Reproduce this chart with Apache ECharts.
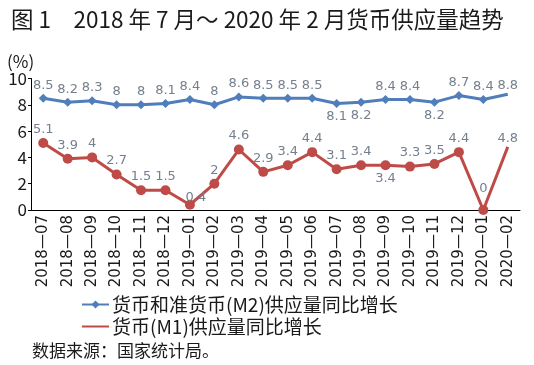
<!DOCTYPE html>
<html><head><meta charset="utf-8">
<script src="https://cdn.jsdelivr.net/npm/echarts@6/dist/echarts.min.js"></script>
<style>html,body{margin:0;padding:0;background:#fff}#c{width:534px;height:365px}</style>
</head><body><div id="c"></div>
<script>
const categories = ['2018—07','2018—08','2018—09','2018—10','2018—11','2018—12','2019—01','2019—02','2019—03','2019—04','2019—05','2019—06','2019—07','2019—08','2019—09','2019—10','2019—11','2019—12','2020—01','2020—02'];
const m2 = [8.5,8.2,8.3,8,8,8.1,8.4,8,8.6,8.5,8.5,8.5,8.1,8.2,8.4,8.4,8.2,8.7,8.4,8.8];
const m1 = [5.1,3.9,4,2.7,1.5,1.5,0.4,2,4.6,2.9,3.4,4.4,3.1,3.4,3.4,3.3,3.5,4.4,0,4.8];
const m2Name = '货币和准货币(M2)供应量同比增长';
const m1Name = '货币(M1)供应量同比增长';
const m2LabelBelow = [12,13,16];
const m1LabelBelow = [14];

const FONT = 'Noto Sans CJK SC';
const BLUE = '#4F7EBB', RED = '#BE4B48', LABEL = '#75808f';
const last = categories.length - 1;

function build(vals, below, extra) {
  return vals.map((v, i) => {
    const d = { value: v };
    if (i === last) d.symbolSize = 0;
    if (below.indexOf(i) >= 0) d.label = { position: 'bottom' };
    if (extra && extra[i]) Object.assign(d, extra[i]);
    return d;
  });
}

const chart = echarts.init(document.getElementById('c'));
chart.setOption({
  animation: false,
  textStyle: { fontFamily: FONT },
  title: {
    text: '图 1　2018 年 7 月～ 2020 年 2 月货币供应量趋势',
    left: 6, top: 3,
    textStyle: { fontFamily: FONT, fontSize: 22.5, fontWeight: 'normal', color: '#1a1a1a' }
  },
  legend: {
    orient: 'vertical', left: 76, top: 290, itemWidth: 27, itemHeight: 10, itemGap: 3,
    textStyle: { fontFamily: FONT, fontSize: 19, color: '#1a1a1a', padding: [0, 0, 0, -2] },
    data: [{ name: m2Name }, { name: m1Name, itemStyle: { opacity: 0 } }]
  },
  graphic: [{
    type: 'text', left: 32, top: 342,
    style: { text: '数据来源：国家统计局。', font: '17px "Noto Sans CJK SC"', fill: '#1a1a1a' }
  }],
  grid: { left: 31, right: 14, top: 78.5, bottom: 155, containLabel: false },
  xAxis: {
    type: 'category', data: categories, boundaryGap: true,
    axisLine: { lineStyle: { color: '#000', width: 1 } },
    axisTick: { show: false },
    axisLabel: { rotate: 90, fontSize: 15, color: '#1a1a1a', margin: 5, interval: 0, fontFamily: 'DejaVu Sans' }
  },
  yAxis: {
    type: 'value', min: 0, max: 10, interval: 2,
    name: '(%)', nameLocation: 'end', nameGap: 6,
    nameTextStyle: { fontSize: 17, color: '#1a1a1a', align: 'left', padding: [0, 0, 0, -24], fontFamily: FONT },
    axisLine: { show: true, lineStyle: { color: '#000', width: 1 } },
    axisTick: { show: true, length: 3, lineStyle: { color: '#000' } },
    splitLine: { show: false },
    axisLabel: { fontSize: 17, color: '#1a1a1a', margin: 4, fontFamily: FONT }
  },
  series: [{
    name: m2Name, type: 'line', data: build(m2, m2LabelBelow),
    symbol: 'diamond', symbolSize: 9,
    lineStyle: { color: BLUE, width: 3 }, itemStyle: { color: BLUE },
    label: { show: true, position: 'top', distance: 2, fontSize: 13, color: LABEL, fontFamily: 'DejaVu Sans' }
  }, {
    name: m1Name, type: 'line', data: build(m1, m1LabelBelow, { 6: { label: { position: 'top', offset: [6, 6] } }, 18: { label: { position: 'top', distance: 10 } } }),
    symbol: 'circle', symbolSize: 10,
    lineStyle: { color: RED, width: 3 }, itemStyle: { color: RED },
    label: { show: true, position: 'top', distance: 2, fontSize: 13, color: LABEL, fontFamily: 'DejaVu Sans' }
  }]
});
</script></body></html>
